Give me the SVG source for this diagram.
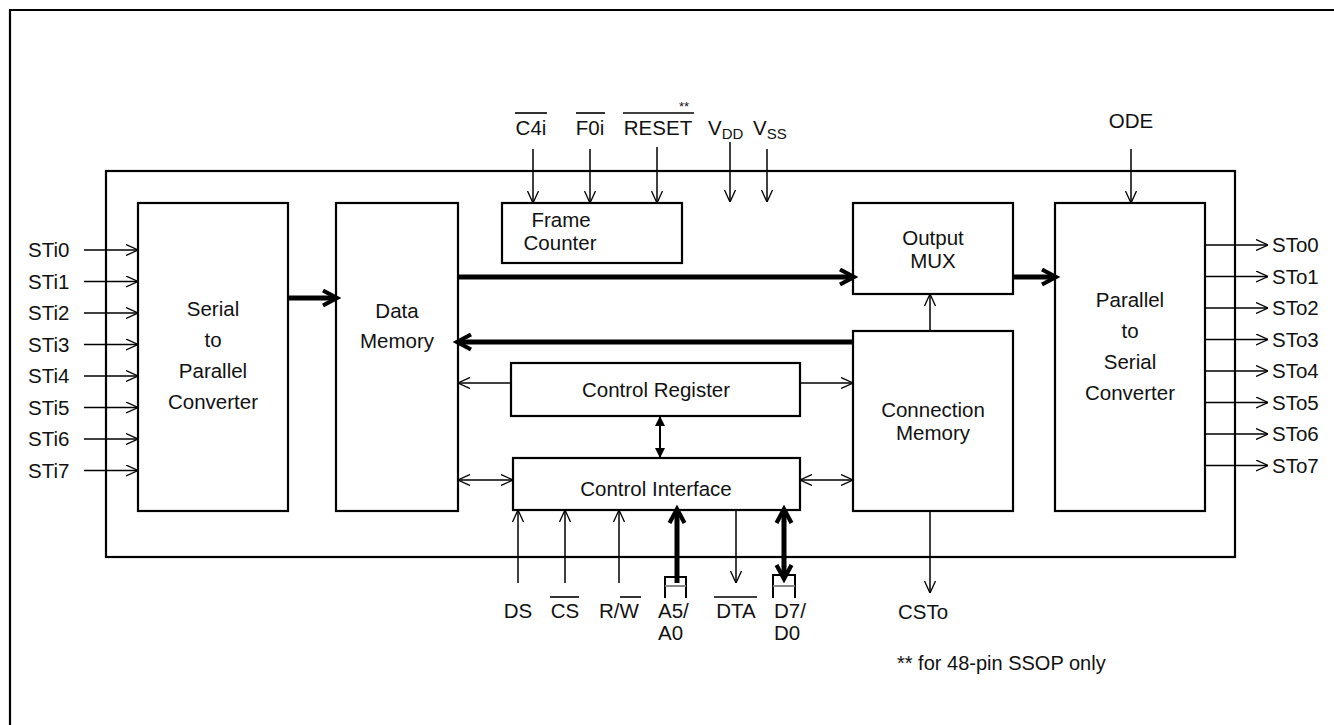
<svg xmlns="http://www.w3.org/2000/svg" width="1334" height="725" viewBox="0 0 1334 725">
<style>
.b{fill:#fff;stroke:#000;stroke-width:2.2}
.t{font-family:"Liberation Sans",Arial,sans-serif;font-size:20.5px;fill:#111}
.m{text-anchor:middle}
.l{stroke:#000;stroke-width:1.5;fill:none}
.k{stroke:#000;stroke-width:5;fill:none}
.o{stroke:#000;stroke-width:1.6}
</style>
<defs>
<marker id="a" viewBox="0 0 12 12" refX="12" refY="6" markerWidth="12" markerHeight="12" markerUnits="userSpaceOnUse" orient="auto-start-reverse"><path d="M0,0.5 L12,6 L0,11.5" fill="none" stroke="#000" stroke-width="1.3"/></marker>
<marker id="k" viewBox="0 0 20 20" refX="15" refY="10" markerWidth="20" markerHeight="20" markerUnits="userSpaceOnUse" orient="auto-start-reverse"><path d="M2,2.5 L16,10 L2,17.5" fill="none" stroke="#000" stroke-width="4.2"/></marker>
<marker id="f" viewBox="0 0 10 10" refX="10" refY="5" markerWidth="10" markerHeight="10" markerUnits="userSpaceOnUse" orient="auto-start-reverse"><path d="M0,0 L10,5 L0,10 z" fill="#000"/></marker>
</defs>
<rect width="1334" height="725" fill="#fff"/>
<g id="frame">
<path d="M10,725 V10 H1334" fill="none" stroke="#000" stroke-width="2.2"/>
<rect x="106" y="171" width="1129" height="386" class="b"/>
</g>
<g id="s2p"><rect x="138" y="203" width="150" height="308" class="b"/>
<text class="t m" x="213" y="316">Serial</text><text class="t m" x="213" y="347">to</text><text class="t m" x="213" y="378">Parallel</text><text class="t m" x="213" y="409">Converter</text></g>
<g id="datamem"><rect x="336" y="203" width="122" height="308" class="b"/>
<text class="t m" x="397" y="318">Data</text><text class="t m" x="397" y="348">Memory</text></g>
<g id="framecounter"><rect x="502" y="203" width="180" height="60" class="b"/>
<text class="t m" x="561" y="227">Frame</text><text class="t m" x="560" y="250">Counter</text></g>
<g id="outputmux"><rect x="853" y="203" width="160" height="91" class="b"/>
<text class="t m" x="933" y="245">Output</text><text class="t m" x="933" y="268">MUX</text></g>
<g id="connmem"><rect x="853" y="331" width="160" height="180" class="b"/>
<text class="t m" x="933" y="417">Connection</text><text class="t m" x="933" y="440">Memory</text></g>
<g id="p2s"><rect x="1055" y="203" width="150" height="308" class="b"/>
<text class="t m" x="1130" y="307">Parallel</text><text class="t m" x="1130" y="338">to</text><text class="t m" x="1130" y="369">Serial</text><text class="t m" x="1130" y="400">Converter</text></g>
<g id="ctrlreg"><rect x="511" y="363" width="289" height="53" class="b"/>
<text class="t m" x="656" y="397">Control Register</text></g>
<g id="ctrlif"><rect x="513" y="458" width="287" height="52" class="b"/>
<text class="t m" x="656" y="496">Control Interface</text></g>
<g id="connectors">
<g class="l" marker-end="url(#a)">
<line x1="84" y1="250" x2="138" y2="250"/><line x1="84" y1="281.5" x2="138" y2="281.5"/>
<line x1="84" y1="313" x2="138" y2="313"/><line x1="84" y1="344.5" x2="138" y2="344.5"/>
<line x1="84" y1="376" x2="138" y2="376"/><line x1="84" y1="407.5" x2="138" y2="407.5"/>
<line x1="84" y1="439" x2="138" y2="439"/><line x1="84" y1="470.5" x2="138" y2="470.5"/>
<line x1="1205" y1="245" x2="1268" y2="245"/><line x1="1205" y1="276.5" x2="1268" y2="276.5"/>
<line x1="1205" y1="308" x2="1268" y2="308"/><line x1="1205" y1="339.5" x2="1268" y2="339.5"/>
<line x1="1205" y1="371" x2="1268" y2="371"/><line x1="1205" y1="402.5" x2="1268" y2="402.5"/>
<line x1="1205" y1="434" x2="1268" y2="434"/><line x1="1205" y1="465.5" x2="1268" y2="465.5"/>
<line x1="533" y1="149" x2="533" y2="203"/><line x1="590" y1="149" x2="590" y2="203"/>
<line x1="657" y1="147" x2="657" y2="203"/><line x1="730" y1="142" x2="730" y2="202"/>
<line x1="767" y1="149" x2="767" y2="202"/><line x1="1131" y1="149" x2="1131" y2="203"/>
<line x1="930" y1="331" x2="930" y2="294"/>
<line x1="511" y1="383" x2="458" y2="383"/><line x1="800" y1="383" x2="853" y2="383"/>
<line x1="518" y1="583" x2="518" y2="510"/><line x1="565" y1="583" x2="565" y2="510"/>
<line x1="619" y1="583" x2="619" y2="510"/><line x1="736" y1="510" x2="736" y2="583"/>
<line x1="930" y1="511" x2="930" y2="593"/>
</g>
<g class="l" marker-start="url(#a)" marker-end="url(#a)">
<line x1="458" y1="480" x2="513" y2="480"/><line x1="800" y1="480" x2="853" y2="480"/>
</g>
<line x1="660" y1="416" x2="660" y2="458" stroke="#000" stroke-width="2" marker-start="url(#f)" marker-end="url(#f)"/>
<g class="k" marker-end="url(#k)">
<line x1="288" y1="298" x2="336" y2="298"/>
<line x1="458" y1="277" x2="853" y2="277"/>
<line x1="1013" y1="277" x2="1055" y2="277"/>
<line x1="853" y1="342" x2="458" y2="342"/>
<line x1="677" y1="583" x2="677" y2="510"/>
</g>
<line x1="784" y1="510" x2="784" y2="578" class="k" marker-start="url(#k)" marker-end="url(#k)"/>
<path d="M665,598 V577 H686 V598" fill="none" stroke="#000" stroke-width="2"/>
<line x1="665" y1="586" x2="686" y2="586" stroke="#888" stroke-width="2"/>
<path d="M773,598 V575 H795 V598" fill="none" stroke="#000" stroke-width="2"/>
<line x1="773" y1="586" x2="795" y2="586" stroke="#888" stroke-width="2"/>
</g>
<g id="labels">
<text class="t" x="28" y="257">STi0</text><text class="t" x="28" y="288.5">STi1</text>
<text class="t" x="28" y="320">STi2</text><text class="t" x="28" y="351.5">STi3</text>
<text class="t" x="28" y="383">STi4</text><text class="t" x="28" y="414.5">STi5</text>
<text class="t" x="28" y="446">STi6</text><text class="t" x="28" y="477.5">STi7</text>
<text class="t" x="1272" y="252">STo0</text><text class="t" x="1272" y="283.5">STo1</text>
<text class="t" x="1272" y="315">STo2</text><text class="t" x="1272" y="346.5">STo3</text>
<text class="t" x="1272" y="378">STo4</text><text class="t" x="1272" y="409.5">STo5</text>
<text class="t" x="1272" y="441">STo6</text><text class="t" x="1272" y="472.5">STo7</text>
<text class="t m" x="531" y="135">C4i</text><line class="o" x1="515" y1="113" x2="547" y2="113"/>
<text class="t m" x="590" y="135">F0i</text><line class="o" x1="576" y1="113" x2="605" y2="113"/>
<text class="t m" x="658" y="135">RESET</text><line class="o" x1="623" y1="113" x2="694" y2="113"/>
<text class="t" x="679" y="111" style="font-size:13px">**</text>
<text class="t" x="708" y="135">V<tspan style="font-size:15px" dy="4">DD</tspan></text>
<text class="t" x="753" y="135">V<tspan style="font-size:15px" dy="4">SS</tspan></text>
<text class="t m" x="1131" y="128">ODE</text>
<text class="t m" x="518" y="618">DS</text>
<text class="t m" x="565" y="618">CS</text><line class="o" x1="550" y1="597" x2="579" y2="597"/>
<text class="t m" x="619" y="618">R/W</text><line class="o" x1="620" y1="597" x2="641" y2="597"/>
<text class="t" x="658" y="618">A5/</text><text class="t" x="658" y="640">A0</text>
<text class="t m" x="736" y="618">DTA</text><line class="o" x1="714" y1="597" x2="757" y2="597"/>
<text class="t" x="774" y="618">D7/</text><text class="t" x="774" y="640">D0</text>
<text class="t" x="898" y="619">CSTo</text>
<text class="t" x="897" y="670" style="font-size:20px">** for 48-pin SSOP only</text>
</g>
</svg>
